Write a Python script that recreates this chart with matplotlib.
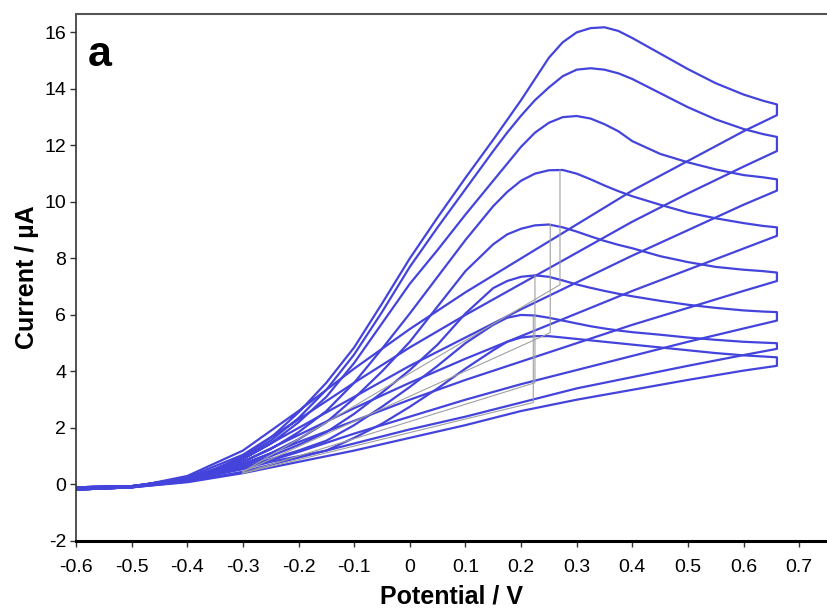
import matplotlib
matplotlib.use("Agg")
import matplotlib.pyplot as plt

plt.rcParams['font.family'] = ['Liberation Sans', 'DejaVu Sans']
plt.rcParams['axes.unicode_minus'] = False

# potential grid of the anodic (forward) sweeps, V
fwd_x = [-0.6, -0.5, -0.4, -0.35, -0.3, -0.25, -0.2, -0.15, -0.1, -0.05, 0.0, 0.05,
         0.1, 0.15, 0.175, 0.2, 0.225, 0.25, 0.275, 0.3, 0.325, 0.35, 0.375, 0.4,
         0.45, 0.5, 0.55, 0.6, 0.635, 0.66]
# forward currents, uA (highest scan rate first)
fwd_1 = [-0.1, -0.06, 0.22, 0.55, 1.0, 1.65, 2.55, 3.6, 4.85, 6.4, 8.0, 9.45,
         10.85, 12.2, 12.9, 13.6, 14.35, 15.1, 15.65, 16.0, 16.15, 16.18, 16.05, 15.8,
         15.25, 14.7, 14.2, 13.8, 13.58, 13.45]
fwd_2 = [-0.1, -0.06, 0.21, 0.52, 0.95, 1.55, 2.35, 3.35, 4.6, 6.1, 7.7, 9.1,
         10.45, 11.8, 12.45, 13.05, 13.6, 14.05, 14.45, 14.68, 14.73, 14.68, 14.55, 14.35,
         13.85, 13.35, 12.92, 12.58, 12.4, 12.3]
fwd_3 = [-0.1, -0.06, 0.2, 0.5, 0.9, 1.45, 2.2, 3.1, 4.3, 5.7, 7.1, 8.3,
         9.55, 10.75, 11.35, 11.95, 12.45, 12.8, 13.0, 13.04, 12.95, 12.75, 12.5, 12.15,
         11.7, 11.4, 11.15, 10.95, 10.87, 10.8]
fwd_4 = [-0.1, -0.06, 0.19, 0.47, 0.8, 1.25, 1.85, 2.6, 3.6, 4.8, 6.05, 7.35,
         8.65, 9.85, 10.35, 10.75, 11.0, 11.12, 11.13, 11.0, 10.8, 10.58, 10.38, 10.2,
         9.9, 9.62, 9.42, 9.25, 9.15, 9.1]
fwd_5 = [-0.1, -0.06, 0.18, 0.45, 0.72, 1.1, 1.6, 2.2, 3.05, 4.0, 5.05, 6.3,
         7.55, 8.5, 8.85, 9.05, 9.17, 9.2, 9.1, 8.95, 8.78, 8.62, 8.48, 8.36,
         8.08, 7.87, 7.7, 7.6, 7.55, 7.5]
fwd_6 = [-0.1, -0.06, 0.17, 0.42, 0.65, 1.0, 1.4, 1.85, 2.5, 3.25, 4.05, 4.95,
         6.05, 6.95, 7.2, 7.35, 7.4, 7.35, 7.22, 7.08, 6.96, 6.85, 6.75, 6.66,
         6.5, 6.36, 6.25, 6.16, 6.12, 6.1]
fwd_7 = [-0.1, -0.06, 0.16, 0.4, 0.6, 0.9, 1.2, 1.55, 2.1, 2.75, 3.45, 4.2,
         5.0, 5.65, 5.9, 6.0, 5.98, 5.9, 5.8, 5.7, 5.6, 5.52, 5.45, 5.39,
         5.3, 5.2, 5.12, 5.05, 5.02, 5.0]
fwd_8 = [-0.1, -0.06, 0.15, 0.38, 0.55, 0.8, 1.0, 1.2, 1.65, 2.15, 2.75, 3.4,
         4.1, 4.75, 5.05, 5.2, 5.25, 5.25, 5.2, 5.15, 5.1, 5.05, 5.0, 4.95,
         4.85, 4.75, 4.65, 4.57, 4.53, 4.5]

# potential grid of the reverse sweeps, V
rev_x = [0.66, 0.6, 0.5, 0.4, 0.3, 0.2, 0.1, 0.0, -0.1, -0.2, -0.3, -0.4, -0.5, -0.6]
rev_1 = [13.07, 12.5, 11.45, 10.4, 9.2, 8.0, 6.8, 5.5, 4.1, 2.6, 1.2, 0.3, -0.1, -0.18]
rev_2 = [11.8, 11.25, 10.3, 9.3, 8.2, 7.1, 6.0, 4.85, 3.6, 2.3, 1.05, 0.25, -0.1, -0.18]
rev_3 = [10.4, 9.9, 9.0, 8.1, 7.15, 6.2, 5.2, 4.2, 3.1, 2.0, 0.9, 0.2, -0.1, -0.18]
rev_4 = [8.8, 8.35, 7.6, 6.85, 6.05, 5.25, 4.45, 3.6, 2.7, 1.75, 0.8, 0.2, -0.1, -0.18]
rev_5 = [7.2, 6.85, 6.25, 5.65, 5.0, 4.35, 3.7, 3.0, 2.25, 1.5, 0.7, 0.15, -0.1, -0.18]
rev_6 = [5.8, 5.52, 5.05, 4.55, 4.05, 3.55, 3.0, 2.4, 1.8, 1.15, 0.55, 0.12, -0.1, -0.18]
rev_7 = [4.8, 4.58, 4.2, 3.8, 3.4, 2.9, 2.4, 1.95, 1.45, 0.95, 0.45, 0.1, -0.1, -0.18]
rev_8 = [4.2, 4.03, 3.7, 3.35, 3.0, 2.6, 2.1, 1.65, 1.2, 0.8, 0.4, 0.08, -0.1, -0.18]

# peak-current construction lines: peak potential, peak top, baseline foot
peak_x = [0.27, 0.2525, 0.225, 0.222]
peak_top = [11.13, 9.2, 7.4, 5.95]
peak_base = [7.07, 5.37, 3.6, 2.9]
base_start_x = -0.3
base_start_y = [0.45, 0.45, 0.4, 0.4]

forward = [fwd_1, fwd_2, fwd_3, fwd_4, fwd_5, fwd_6, fwd_7, fwd_8]
reverse = [rev_1, rev_2, rev_3, rev_4, rev_5, rev_6, rev_7, rev_8]

fig = plt.figure(figsize=(8.27, 6.14), dpi=100)
ax = fig.add_axes([0.0919, 0.1189, 0.9081, 0.8583])

blue = '#4444dc'
for f, r in zip(forward, reverse):
    ax.plot(fwd_x + rev_x, f + r, color=blue, lw=1.6, solid_joinstyle='round')

for px, top, base, by in zip(peak_x, peak_top, peak_base, base_start_y):
    ax.plot([base_start_x, px, px], [by, base, top], color='#a0a0a0', lw=0.8)

ax.text(-0.578, 14.8, 'a', fontsize=31, fontweight='bold', ha='left', va='baseline')

ax.set_xlim(-0.6, 0.75)
ax.set_ylim(-2, 16.65)
ax.set_xticks([-0.6, -0.5, -0.4, -0.3, -0.2, -0.1, 0, 0.1, 0.2, 0.3, 0.4, 0.5, 0.6, 0.7])
ax.set_xticklabels(['-0.6', '-0.5', '-0.4', '-0.3', '-0.2', '-0.1', '0', '0.1', '0.2',
                    '0.3', '0.4', '0.5', '0.6', '0.7'])
ax.set_yticks([-2, 0, 2, 4, 6, 8, 10, 12, 14, 16])
ax.tick_params(axis='both', labelsize=14, direction='out', length=4, width=1, color='#333333')
ax.tick_params(axis='x', pad=9)
ax.tick_params(axis='y', pad=3)

ax.spines['right'].set_visible(False)
ax.spines['top'].set_color('#555555')
ax.spines['top'].set_linewidth(1.5)
ax.spines['left'].set_color('#333333')
ax.spines['left'].set_linewidth(1.2)
ax.spines['bottom'].set_color('black')
ax.spines['bottom'].set_linewidth(2.2)

ax.set_xlabel('Potential / V', fontsize=18, fontweight='bold', labelpad=6)
ax.set_ylabel('Current / µA', fontsize=18, fontweight='bold', labelpad=4)

fig.savefig('out.png', dpi=100)
